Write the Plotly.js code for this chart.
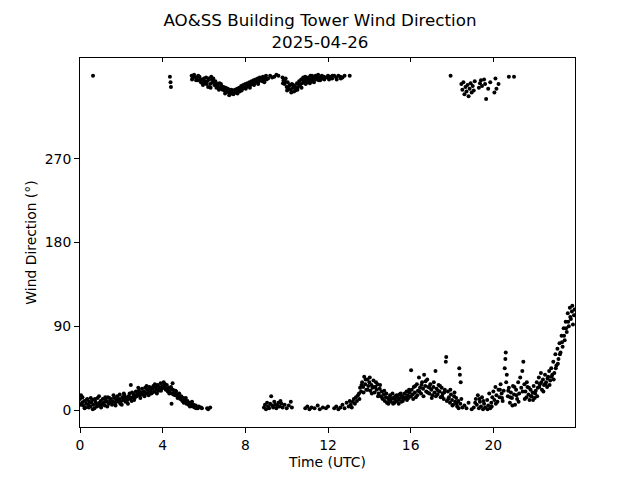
<!DOCTYPE html>
<html>
<head>
<meta charset="utf-8">
<script src="https://cdn.plot.ly/plotly-3.0.1.min.js"></script>
<style>html,body{margin:0;padding:0;background:#fff;}#chart{width:640px;height:480px;}</style>
</head>
<body>
<div id="chart"></div>
<script>
// [hour UTC, wind direction degrees]
const morningLow = [
 [0.00,12],[0.05,16],[0.10,8],[0.15,5],[0.20,10],[0.25,3],[0.30,7],[0.35,12],[0.40,6],[0.45,9],
 [0.50,4],[0.55,8],[0.60,11],[0.65,6],[0.70,2],[0.75,9],[0.80,7],[0.85,13],[0.90,5],[0.95,8],
 [1.00,10],[1.05,6],[1.10,12],[1.15,8],[1.20,5],[1.25,11],[1.30,9],[1.35,14],[1.40,7],[1.45,10],
 [1.50,12],[1.55,6],[1.60,9],[1.65,13],[1.70,8],[1.75,11],[1.80,15],[1.85,9],[1.90,12],[1.95,7],
 [2.00,10],[2.05,14],[2.10,11],[2.15,16],[2.20,9],[2.25,13],[2.30,11],[2.35,15],[2.40,18],[2.45,12],
 [2.46,27],[2.50,10],[2.55,14],[2.60,17],[2.65,13],[2.70,20],[2.75,15],[2.80,18],[2.85,21],[2.90,16],
 [2.95,19],[3.00,23],[3.05,17],[3.10,20],[3.15,24],[3.20,18],[3.25,22],[3.30,19],[3.35,25],[3.40,21],
 [3.45,18],[3.50,23],[3.55,26],[3.60,20],[3.65,24],[3.70,22],[3.75,27],[3.80,21],[3.85,25],[3.90,29],
 [3.95,23],[4.00,26],[4.05,30],[4.10,24],[4.15,22],[4.20,27],[4.25,20],[4.30,24],[4.35,21],[4.40,25],
 [4.43,7],[4.45,18],[4.48,29],[4.50,22],[4.55,19],[4.60,16],[4.65,20],[4.70,17],[4.75,14],[4.80,18],
 [4.85,12],[4.90,15],[4.95,10],[5.00,13],[5.05,9],[5.10,11],[5.15,7],[5.20,10],[5.25,6],[5.30,8],
 [5.35,5],[5.40,7],[5.45,4],[5.50,6],[5.55,3],[5.60,5],[5.70,2],[5.75,4],[5.85,3],[5.90,2],
 [6.15,2],[6.20,1],[6.30,3]
];
const morningLowExtra = [
 [0.02,6],[0.12,14],[0.22,2],[0.32,11],[0.42,3],[0.52,13],[0.62,1],[0.72,12],[0.82,4],[0.92,15],
 [1.02,3],[1.12,7],[1.22,14],[1.32,4],[1.42,13],[1.52,8],[1.62,16],[1.72,5],[1.82,11],[1.92,17],
 [2.02,6],[2.12,18],[2.22,13],[2.32,7],[2.42,14],[2.52,19],[2.62,11],[2.72,16],[2.82,24],[2.92,13],
 [3.02,19],[3.12,15],[3.22,26],[3.32,16],[3.42,24],[3.52,19],[3.62,28],[3.72,18],[3.82,24],[3.92,21],
 [4.02,24],[4.12,28],[4.22,23],[4.32,18],[4.42,23],[4.52,17],[4.62,21],[4.72,13],[4.82,15],[4.92,12],
 [5.02,8],[5.12,13],[5.22,8],[5.32,4],[5.42,9],[5.52,5],[5.62,2]
];
const morningHigh = [
 [0.63,359],[4.35,358],[4.38,352],[4.40,347],
 [5.40,359],[5.45,356],[5.55,358],[5.65,357],[5.70,354],[5.78,358],[5.85,352],[5.90,355],[5.95,349],
 [6.00,356],[6.05,351],[6.10,357],[6.15,353],[6.20,347],[6.25,355],[6.30,350],[6.35,358],[6.40,352],
 [6.45,356],[6.50,349],[6.55,353],[6.60,346],[6.65,350],[6.70,347],[6.75,351],[6.80,345],[6.85,348],
 [6.90,344],[6.95,347],[7.00,343],[7.05,346],[7.10,342],[7.15,345],[7.20,341],[7.25,344],[7.30,342],
 [7.35,340],[7.40,343],[7.45,341],[7.50,344],[7.55,342],[7.60,345],[7.65,343],[7.70,346],[7.75,344],
 [7.80,348],[7.85,345],[7.90,349],[7.95,346],[8.00,350],[8.05,347],[8.10,351],[8.15,348],[8.20,352],
 [8.25,349],[8.30,353],[8.35,350],[8.40,354],[8.45,351],[8.50,355],[8.55,352],[8.60,356],[8.65,353],
 [8.70,357],[8.75,354],[8.80,356],[8.85,358],[8.90,355],[8.95,357],[9.00,359],[9.10,356],[9.20,359],
 [9.40,358],[9.60,359]
];
const morningHighExtra = [
 [5.42,355],[5.52,360],[5.62,354],[5.72,359],[5.82,355],[5.92,351],[6.02,353],[6.12,350],[6.22,356],
 [6.32,346],[6.42,355],[6.52,351],[6.62,349],[6.72,344],[6.82,350],[6.92,346],[7.02,340],[7.12,345],
 [7.22,338],[7.32,344],[7.42,339],[7.52,341],[7.62,340],[7.72,342],[7.82,343],[7.92,347],[8.02,345],
 [8.12,349],[8.22,346],[8.32,351],[8.42,349],[8.52,352],[8.62,350],[8.72,354],[8.82,353],[8.92,352],
 [9.02,355],[9.30,357],[9.50,360]
];
const middayHigh = [
 [9.80,357],[9.85,354],[9.90,350],[9.95,356],[10.00,347],[10.05,352],[10.10,345],[10.15,349],
 [10.20,344],[10.25,350],[10.30,346],[10.35,342],[10.40,348],[10.45,345],[10.50,351],[10.55,347],
 [10.60,353],[10.65,349],[10.70,355],[10.75,351],[10.80,357],[10.85,353],[10.90,358],[10.95,355],
 [11.00,352],[11.05,357],[11.10,354],[11.15,359],[11.20,356],[11.25,353],[11.30,358],[11.35,355],
 [11.40,359],[11.45,356],[11.50,358],[11.55,354],[11.60,357],[11.70,359],[11.75,356],[11.80,358],
 [11.90,357],[12.00,359],[12.05,355],[12.10,358],[12.20,356],[12.30,359],[12.40,357],[12.50,359],
 [12.60,358],[12.70,357],[13.05,359]
];
const middayHighExtra = [
 [9.82,351],[9.92,353],[10.02,343],[10.12,348],[10.22,341],[10.32,349],[10.42,343],[10.52,344],
 [10.62,350],[10.72,346],[10.82,354],[10.92,350],[11.02,355],[11.12,351],[11.22,359],[11.32,352],
 [11.42,355],[11.52,360],[11.62,354],[11.82,355],[12.02,357],[12.22,359],[12.42,355],[12.62,356],
 [12.80,359]
];
const middayLow = [
 [8.90,3],[8.95,6],[9.00,1],[9.05,8],[9.10,4],[9.15,2],[9.20,7],[9.25,15],[9.30,5],[9.35,3],
 [9.40,9],[9.45,6],[9.50,2],[9.55,5],[9.60,8],[9.65,4],[9.70,10],[9.75,7],[9.80,3],[9.90,6],
 [10.00,2],[10.10,5],[10.20,9],[10.25,3],
 [10.90,2],[11.00,4],[11.10,1],[11.20,3],[11.35,2],[11.50,5],[11.60,1],[11.75,3],[11.90,2],[12.00,4],
 [12.30,2],[12.40,4],[12.50,1],[12.60,3],[12.70,6],[12.80,2],[12.90,8],[13.00,4],[13.05,10],[13.10,6],
 [13.15,3],[13.20,9],[13.25,12],[13.30,7],[13.35,14],[13.40,10],[13.45,16]
];
const afternoonLow = [
 [13.50,18],[13.55,24],[13.60,20],[13.65,30],[13.70,25],[13.75,36],[13.80,28],[13.85,22],[13.90,33],
 [13.95,26],[14.00,30],[14.05,21],[14.10,27],[14.15,24],[14.20,32],[14.25,19],[14.30,25],[14.35,22],
 [14.40,28],[14.45,18],[14.50,23],[14.55,15],[14.60,20],[14.65,12],[14.70,17],[14.75,10],[14.80,14],
 [14.85,8],[14.90,13],[14.95,11],[15.00,16],[15.05,9],[15.10,13],[15.15,7],[15.20,12],[15.25,15],
 [15.30,10],[15.35,14],[15.40,11],[15.45,17],[15.50,13],[15.55,9],[15.60,15],[15.65,12],[15.70,18],
 [15.75,14],[15.80,20],[15.85,16],[15.90,13],[15.95,19],[16.00,15],[16.02,43],[16.05,22],[16.10,17],
 [16.15,25],[16.20,19],[16.25,14],[16.30,28],[16.35,21],[16.40,35],[16.45,24],[16.50,18],[16.55,30],
 [16.60,23],[16.65,38],[16.70,26],[16.75,20],[16.80,33],[16.85,25],[16.90,18],[16.95,28],[17.00,22],
 [17.05,16],[17.10,25],[17.15,19],[17.20,42],[17.25,23],[17.30,17],[17.35,27],[17.40,20],[17.45,14],
 [17.50,24],[17.55,18],[17.60,12],[17.65,22],[17.70,52],[17.72,57],[17.75,10],[17.80,20],[17.85,14],
 [17.90,8],[17.95,17],[18.00,11],[18.05,6],[18.10,15],[18.15,9],[18.20,13],[18.25,4],[18.30,10],
 [18.35,45],[18.38,38],[18.40,7],[18.42,30],[18.45,12],[18.50,3],[18.60,5],[18.70,2],[18.80,8]
];
const afternoonLowExtra = [
 [13.52,12],[13.62,27],[13.72,19],[13.82,33],[13.92,22],[14.02,35],[14.12,18],[14.22,25],[14.32,30],
 [14.42,15],[14.52,27],[14.62,13],[14.72,21],[14.82,18],[14.92,7],[15.02,12],[15.12,18],[15.22,8],
 [15.32,16],[15.42,7],[15.52,18],[15.62,10],[15.72,13],[15.82,11],[15.92,22],[16.12,12],[16.22,26],
 [16.32,16],[16.42,20],[16.52,27],[16.62,15],[16.72,31],[16.82,19],[16.92,24],[17.02,13],[17.12,30],
 [17.22,15],[17.32,21],[17.42,26],[17.52,15],[17.62,19],[17.82,12],[17.92,22],[18.02,5],[18.12,19],
 [18.22,7],[18.32,2]
];
const eveningHigh = [
 [17.93,359],[18.45,350],[18.50,344],[18.55,352],[18.60,339],[18.65,347],[18.70,342],[18.75,349],
 [18.80,337],[18.85,345],[18.90,351],[18.95,341],[19.00,348],[19.05,343],[19.10,353],[19.30,346],
 [19.35,351],[19.40,354],[19.45,348],[19.55,355],[19.60,350],[19.65,334],[19.75,345],[19.85,352],
 [20.05,341],[20.10,356],[20.15,345],[20.25,350],[20.75,358],[21.00,358]
];
const eveningLow = [
 [18.95,1],[19.05,3],[19.15,12],[19.20,6],[19.25,16],[19.30,2],[19.35,9],[19.40,4],[19.45,14],
 [19.50,1],[19.55,7],[19.60,3],[19.70,11],[19.75,5],[19.80,18],[19.85,2],[19.90,8],[19.95,14],
 [20.00,20],[20.05,11],[20.10,25],[20.15,16],[20.20,9],[20.25,22],[20.30,14],[20.35,28],[20.40,18],
 [20.45,10],[20.50,21],[20.55,45],[20.58,55],[20.60,62],[20.65,38],[20.70,15],[20.75,24],[20.80,8],
 [20.85,19],[20.90,13],[20.95,26],[21.00,17],[21.05,6],[21.10,22],[21.15,12],[21.20,30],[21.25,18],
 [21.30,35],[21.35,24],[21.40,42],[21.45,52],[21.50,28],[21.55,20],[21.60,14],[21.65,25],[21.70,17],
 [21.75,11],[21.80,22],[21.85,15],[21.90,19],[21.95,26],[22.00,13],[22.05,21],[22.10,30],[22.15,24],
 [22.20,35],[22.25,28],[22.30,40],[22.35,22],[22.40,33],[22.45,27],[22.50,38],[22.55,30],[22.60,25],
 [22.65,36],[22.70,42],[22.75,32],[22.80,45],[22.85,38],[22.90,52],[22.95,40],[23.00,60],[23.05,48],
 [23.10,66],[23.15,55],[23.20,72],[23.25,62],[23.30,80],[23.35,68],[23.40,88],[23.45,75],[23.50,95],
 [23.55,84],[23.60,104],[23.65,90],[23.70,110],[23.75,98],[23.80,106],[23.85,92]
];
const eveningLowExtra = [
 [19.12,8],[19.32,12],[19.52,10],[19.72,1],[19.92,4],[20.12,7],[20.32,22],[20.42,13],[20.62,30],
 [20.72,21],[20.82,14],[20.92,5],[21.02,25],[21.12,16],[21.22,9],[21.42,20],[21.52,12],[21.62,30],
 [21.72,24],[21.82,15],[21.92,11],[22.02,18],[22.12,15],[22.22,25],[22.32,30],[22.42,20],[22.52,28],
 [22.62,34],[22.72,27],[22.82,36],[22.92,33],[23.02,45],[23.12,50],[23.22,60],[23.32,73],[23.42,80],
 [23.52,88],[23.62,95],[23.72,100],[23.82,112],[23.90,102],[23.93,108]
];
const xTicks = [0, 4, 8, 12, 16, 20];
const yTicks = [0, 90, 180, 270];

const all = [].concat(morningLow, morningLowExtra, morningHigh, morningHighExtra, middayHigh,
  middayHighExtra, middayLow, afternoonLow, afternoonLowExtra, eveningHigh, eveningLow, eveningLowExtra);
const hours = all.map(p => p[0]);
const dirs = all.map(p => p[1]);

const font = {family: 'DejaVu Sans, sans-serif', color: '#000'};
const trace = {
  x: hours, y: dirs, type: 'scatter', mode: 'markers',
  marker: {color: '#000', size: 4}, showlegend: false, hoverinfo: 'skip'
};
const topTicks = {
  x: [0], y: [0], xaxis: 'x2', yaxis: 'y', type: 'scatter', mode: 'markers',
  marker: {opacity: 0}, showlegend: false, hoverinfo: 'skip'
};
const layout = {
  width: 640, height: 480,
  margin: {l: 80, r: 65, t: 58, b: 53, pad: 0},
  paper_bgcolor: '#fff', plot_bgcolor: '#fff',
  font: Object.assign({size: 13.9}, font),
  title: {
    text: 'AO&amp;SS Building Tower Wind Direction<br>2025-04-26',
    x: 0.5, xref: 'container', xanchor: 'center',
    y: 0.945, yref: 'container', yanchor: 'top',
    font: Object.assign({size: 16.7}, font)
  },
  xaxis: {
    range: [0, 23.95], tickvals: xTicks, ticktext: xTicks.map(String),
    ticks: 'outside', ticklen: 5, tickwidth: 1, tickcolor: '#000',
    showline: true, linecolor: '#000', linewidth: 1, mirror: true,
    showgrid: false, zeroline: false,
    title: {text: 'Time (UTC)', font: Object.assign({size: 13.9}, font), standoff: 5},
    tickfont: Object.assign({size: 13.9}, font)
  },
  xaxis2: {
    range: [0, 23.95], overlaying: 'x', side: 'top', tickvals: xTicks,
    ticks: 'inside', ticklen: 4, tickwidth: 1, tickcolor: '#000',
    showticklabels: false, showgrid: false, zeroline: false, showline: false
  },
  yaxis: {
    range: [-18, 378], tickvals: yTicks, ticktext: yTicks.map(String),
    ticks: 'outside', ticklen: 5, tickwidth: 1, tickcolor: '#000',
    showline: true, linecolor: '#000', linewidth: 1, mirror: true,
    showgrid: false, zeroline: false,
    title: {text: 'Wind Direction (°)', font: Object.assign({size: 13.9}, font), standoff: 4},
    tickfont: Object.assign({size: 13.9}, font)
  }
};
Plotly.newPlot('chart', [trace, topTicks], layout, {staticPlot: true, displayModeBar: false});
</script>
</body>
</html>
